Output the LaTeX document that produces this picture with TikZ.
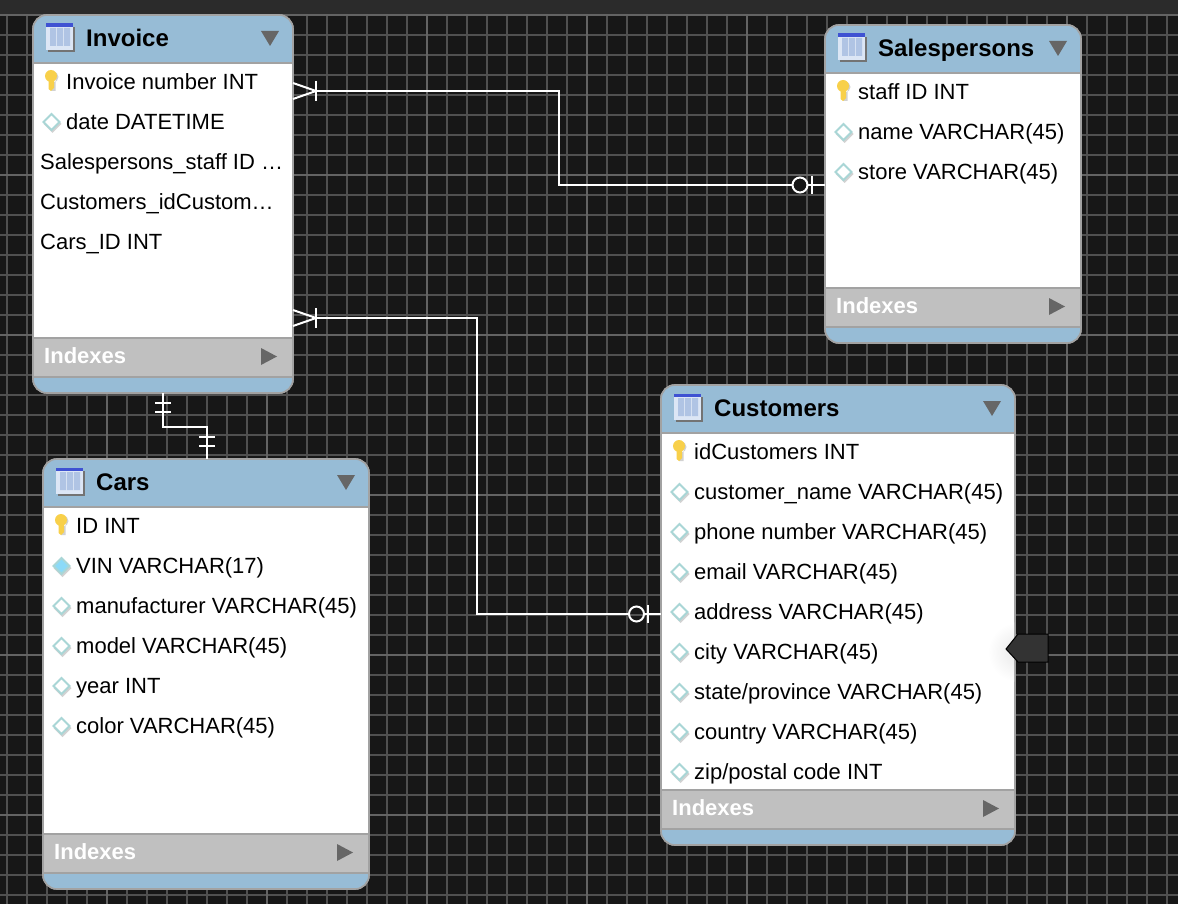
\documentclass[tikz,border=0pt]{standalone}
\usepackage{fontspec}
\setmainfont{Liberation Sans}
\definecolor{canvas}{HTML}{171717}
\definecolor{topbar}{HTML}{2B2B2B}
\definecolor{gridline}{HTML}{505050}
\definecolor{gridmajor}{HTML}{636363}
\definecolor{headblue}{HTML}{97BCD6}
\definecolor{indexgray}{HTML}{C0C0C0}
\definecolor{edgegray}{HTML}{A2A2A2}
\definecolor{arrowgray}{HTML}{666666}
\definecolor{keygold}{HTML}{F8D04A}
\definecolor{diamondteal}{HTML}{A9D6D6}
\definecolor{flagdark}{HTML}{333333}
\definecolor{iconpale}{HTML}{DCE6F5}
\definecolor{iconcol}{HTML}{B0C4E4}
\definecolor{iconbar}{HTML}{3F52D2}
\tikzset{
  tablebox/.style={draw=edgegray,fill=white,line width=1.6pt,rounded corners=14pt,inner sep=0pt,outer sep=0pt},
  titletext/.style={anchor=base west,inner sep=0pt,font=\fontsize{24}{28}\selectfont\bfseries},
  rowtext/.style={anchor=base west,inner sep=0pt,font=\fontsize{22}{26}\selectfont},
  indextext/.style={anchor=base west,inner sep=0pt,text=white,font=\fontsize{22}{26}\selectfont\bfseries},
  relline/.style={draw=white,line width=2pt},
  zeroend/.style={circle,draw=white,line width=2pt,inner sep=0pt,minimum size=15pt,outer sep=0pt},
}
% row markers
\newcommand\markk[2]{%
  \fill[gray!35] (#1+1,#2-5) circle (5.5) (#1-1,#2-3) rectangle (#1+3.5,#2+9);
  \fill[keygold] (#1-1,#2-6) circle (6) (#1-3.5,#2-4) -- (#1+2,#2-4) -- (#1+2,#2+6) -- (#1-1,#2+9) -- (#1-3.5,#2+7) -- cycle;
}
\newcommand\markd[2]{%
  \fill[gray!35] (#1+0.5,#2-7) -- (#1+9.5,#2+2) -- (#1+0.5,#2+11) -- (#1-8.5,#2+2) -- cycle;
  \draw[diamondteal,fill=white,line width=2pt] (#1-0.5,#2-8) -- (#1+7.5,#2) -- (#1-0.5,#2+8) -- (#1-8.5,#2) -- cycle;
}
\newcommand\marku[2]{%
  \fill[gray!35] (#1+0.5,#2-7) -- (#1+9.5,#2+2) -- (#1+0.5,#2+11) -- (#1-8.5,#2+2) -- cycle;
  \draw[diamondteal,fill=cyan!45!white,line width=2pt] (#1-0.5,#2-8) -- (#1+7.5,#2) -- (#1-0.5,#2+8) -- (#1-8.5,#2) -- cycle;
}
\newcommand\markf[2]{}
% id, title, left, top, right, bottom, rows
\newcommand\ertable[7]{%
  \node (#1) [tablebox,minimum width={(#5-#3)*1pt},minimum height={(#6-#4)*1pt}] at ({(#3+#5)/2},{(#4+#6)/2}) {};
  \begin{scope}
    \clip[rounded corners=14pt] (#1.north west) rectangle (#1.south east);
    \fill[headblue] (#3,#4) rectangle (#5,#4+48);
    \fill[indexgray] (#3,#6-55) rectangle (#5,#6-16);
    \fill[headblue] (#3,#6-16) rectangle (#5,#6);
    \draw[edgegray,line width=2.5pt] (#3,#4+48) -- (#5,#4+48) (#3,#6-55) -- (#5,#6-55) (#3,#6-16) -- (#5,#6-16);
  \end{scope}
  \path[draw=edgegray,line width=1.6pt,rounded corners=14pt] (#1.north west) rectangle (#1.south east);
  % table icon
  \fill[black!55] (#3+15,#4+12) rectangle (#3+42,#4+37);
  \fill[iconpale] (#3+13,#4+9) rectangle (#3+40,#4+35);
  \fill[iconcol] (#3+17,#4+13) rectangle (#3+23,#4+31) (#3+24,#4+13) rectangle (#3+30,#4+31) (#3+31,#4+13) rectangle (#3+37,#4+31);
  \fill[iconbar] (#3+13,#4+8.5) rectangle (#3+40,#4+12);
  \node (#1-title) [titletext] at (#3+53,#4+31.5) {#2};
  \fill[arrowgray] (#5-32,#4+16) -- (#5-14,#4+16) -- (#5-23,#4+31) -- cycle;
  \foreach \k/\dx/\txt [count=\i from 0] in {#7} {
    \pgfmathsetmacro\rowy{#4+67+40*\i}
    \csname mark\k\endcsname{#3+19}{\rowy}
    \node (#1-r\i) [rowtext] at ({#3+\dx},{\rowy+7.5}) {\txt};
  }
  \node (#1-idx) [indextext] at (#3+11,#6-30) {Indexes};
  \fill[arrowgray] (#5-32,#6-45) -- (#5-16,#6-36.5) -- (#5-32,#6-28) -- cycle;
}
\begin{document}
\begin{tikzpicture}[x=1pt,y=-1pt]
  \useasboundingbox (0,0) rectangle (1178,904);
  \fill[canvas] (0,0) rectangle (1178,904);
  \foreach \x in {7,27,...,1167} \draw[gridline,line width=1.6pt] (\x,14) -- (\x,904);
  \foreach \y in {15,35,...,895} \draw[gridline,line width=1.6pt] (0,\y) -- (1178,\y);
  \foreach \x in {107,267,...,1067} \draw[gridmajor,line width=1.8pt] (\x,14) -- (\x,904);
  \foreach \y in {15,175,...,815} \draw[gridmajor,line width=1.8pt] (0,\y) -- (1178,\y);
  \fill[topbar] (0,0) rectangle (1178,14);

  \ertable{invoice}{Invoice}{33}{15}{293}{393}{k/33/Invoice number INT, d/33/date DATETIME, f/7/{Salespersons\_staff ID …}, f/7/{Customers\_idCustom…}, f/7/{Cars\_ID INT}}
  \ertable{sales}{Salespersons}{825}{25}{1081}{343}{k/33/staff ID INT, d/33/name VARCHAR(45), d/33/store VARCHAR(45)}
  \ertable{cars}{Cars}{43}{459}{369}{889}{k/33/ID INT, u/33/VIN VARCHAR(17), d/33/manufacturer VARCHAR(45), d/33/model VARCHAR(45), d/33/year INT, d/33/color VARCHAR(45)}
  \ertable{cust}{Customers}{661}{385}{1015}{845}{k/33/idCustomers INT, d/33/customer\_name VARCHAR(45), d/33/phone number VARCHAR(45), d/33/email VARCHAR(45), d/33/address VARCHAR(45), d/33/city VARCHAR(45), d/33/{state/province VARCHAR(45)}, d/33/country VARCHAR(45), d/33/{zip/postal code INT}}

  % the little flag on Customers
  \begin{scope}
    \clip (900,560) rectangle (1014,740);
    \shade[inner color=black!9,outer color=white] (1018,652) circle (30);
  \end{scope}
  \draw[black,fill=flagdark,line width=1pt] (1006,649) -- (1018,634) -- (1048,634) -- (1048,662) -- (1018,662) -- cycle;

  % relationships
  \coordinate (invSales) at (316,91);
  \coordinate (invCust) at (316,318);
  \coordinate (bendSales) at (559,185);
  \coordinate (bendCust) at (477,614);
  \node (zeroSales) [zeroend] at (800,185) {};
  \node (zeroCust) [zeroend] at (636.5,614) {};
  \coordinate (endSales) at (825,185);
  \coordinate (endCust) at (661,614);
  \draw[relline] (invSales) -| (bendSales) -- (zeroSales);
  \draw[relline] (invCust) -| (bendCust) -- (zeroCust);
  \draw[relline] (zeroSales) -- (endSales);
  \draw[relline] (zeroCust) -- (endCust);
  \foreach \c in {invSales,invCust} {
    \draw[relline] ([shift={(-23,-8)}]\c) -- (\c) -- ([shift={(-23,8)}]\c);
    \draw[relline] ([shift={(0,-10)}]\c) -- ([shift={(0,10)}]\c);
  }
  \foreach \c in {endSales,endCust}
    \draw[relline] ([shift={(-13,-9)}]\c) -- ([shift={(-13,9)}]\c);

  \coordinate (invCars) at (163,393);
  \coordinate (carsInv) at (207,459);
  \coordinate (bendCars) at (163,427);
  \draw[relline] (invCars) -- (bendCars) -| (carsInv);
  \foreach \y in {403,412} \draw[relline] (155,\y) -- (171,\y);
  \foreach \y in {437,446} \draw[relline] (199,\y) -- (215,\y);
\end{tikzpicture}
\end{document}
